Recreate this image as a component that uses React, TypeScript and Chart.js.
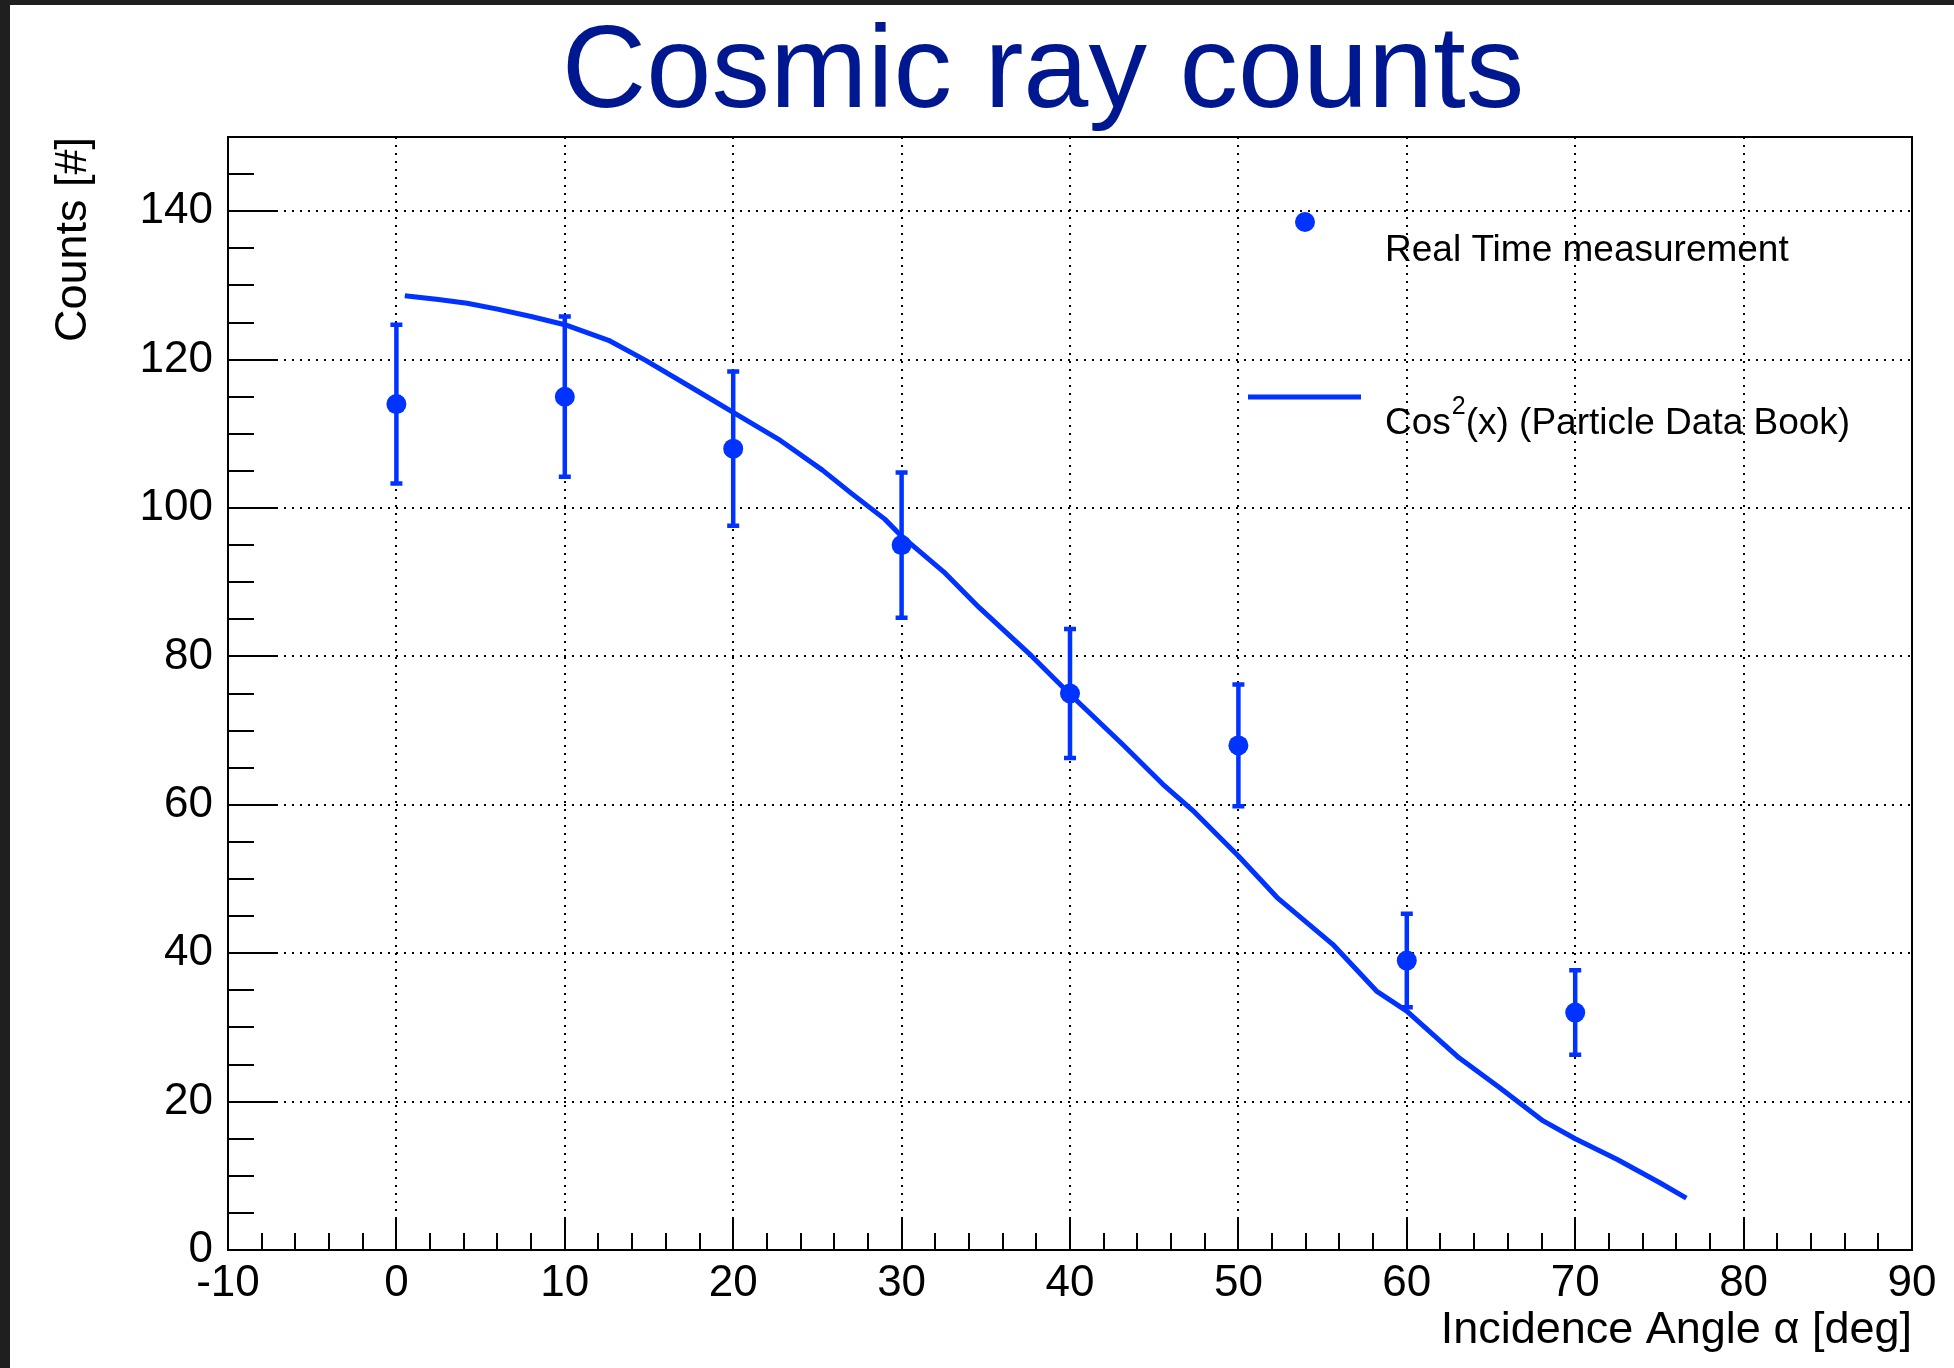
import React, { useEffect, useRef } from 'react';
import { Chart, registerables } from 'chart.js';

Chart.register(...registerables);

// ---- data ----
const angles = [0, 10, 20, 30, 40, 50, 60, 70];
const counts = [114, 115, 108, 95, 75, 68, 39, 32];
const countErrors = [10.7, 10.8, 10.4, 9.8, 8.7, 8.2, 6.3, 5.7];

const curveAngles = [0.5, 2.5, 4.2, 6, 8, 10, 12.6, 14.8, 18, 20, 22.8, 25.3, 27, 29, 30, 32.5, 34.6, 37.7, 40, 43.1, 45.5, 47.4, 50, 52.3, 55.6, 58.2, 60, 63.1, 65.5, 68.1, 70, 72.5, 75, 76.6];
const curveCounts = [128.6, 128.1, 127.6, 126.8, 125.8, 124.7, 122.6, 119.9, 115.6, 112.9, 109.1, 105.1, 102.0, 98.5, 96.2, 91.4, 86.6, 80.1, 74.9, 68.2, 62.8, 59.0, 53.1, 47.5, 41.2, 34.9, 32.2, 25.9, 21.9, 17.4, 15.0, 12.2, 9.1, 7.0];

const xRange = [-10, 90];
const yRange = [0, 150];
const xMajorStep = 10;
const xMinorStep = 2;
const yMajorStep = 20;
const yMinorStep = 5;

const chartTitle = 'Cosmic ray counts';
const xTitle = 'Incidence Angle α [deg]';
const yTitle = 'Counts [#]';
const pointsLabel = 'Real Time measurement';
const curveLabel = 'Cos²(x) (Particle Data Book)';

// ---- style ----
const FONT = '"Liberation Sans", Arial, Helvetica, sans-serif';
const BLUE = '#0033ff';
const TITLE_COLOR = '#00188f';
const W = 1944;
const H = 1363;

const rootStyle = {
  id: 'rootStyle',
  beforeDraw(chart: any) {
    const { ctx, width, height } = chart;
    ctx.save();
    ctx.fillStyle = '#ffffff';
    ctx.fillRect(0, 0, width, height);
    ctx.restore();
  },
  beforeDatasetsDraw(chart: any) {
    const { ctx } = chart;
    const xs = chart.scales.x;
    const ys = chart.scales.y;
    ctx.save();
    ctx.strokeStyle = BLUE;
    ctx.lineWidth = 4.5;
    ctx.lineCap = 'butt';
    angles.forEach((a, i) => {
      const px = xs.getPixelForValue(a);
      const top = ys.getPixelForValue(counts[i] + countErrors[i]);
      const bot = ys.getPixelForValue(counts[i] - countErrors[i]);
      ctx.beginPath();
      ctx.moveTo(px, top);
      ctx.lineTo(px, bot);
      ctx.moveTo(px - 6, top);
      ctx.lineTo(px + 6, top);
      ctx.moveTo(px - 6, bot);
      ctx.lineTo(px + 6, bot);
      ctx.stroke();
    });
    ctx.restore();
  },
  afterDraw(chart: any) {
    const { ctx, chartArea } = chart;
    const { left, right, top, bottom } = chartArea;
    const xs = chart.scales.x;
    const ys = chart.scales.y;
    ctx.save();
    // ticks (inside the frame)
    ctx.strokeStyle = '#000';
    ctx.lineWidth = 2;
    ctx.beginPath();
    const eps = 1e-6;
    for (let v = yRange[0]; v <= yRange[1] + eps; v += yMinorStep) {
      if (v <= yRange[0] + eps || v >= yRange[1] - eps) continue;
      const isMajor = Math.abs(v / yMajorStep - Math.round(v / yMajorStep)) < eps;
      const py = Math.round(ys.getPixelForValue(v));
      ctx.moveTo(left, py);
      ctx.lineTo(left + (isMajor ? 50 : 26), py);
    }
    for (let v = xRange[0]; v <= xRange[1] + eps; v += xMinorStep) {
      if (v <= xRange[0] + eps || v >= xRange[1] - eps) continue;
      const isMajor = Math.abs(v / xMajorStep - Math.round(v / xMajorStep)) < eps;
      const px = Math.round(xs.getPixelForValue(v));
      ctx.moveTo(px, bottom);
      ctx.lineTo(px, bottom - (isMajor ? 33 : 17));
    }
    ctx.stroke();
    // frame
    ctx.lineWidth = 2;
    ctx.strokeRect(left, top, right - left, bottom - top);

    // title
    ctx.fillStyle = TITLE_COLOR;
    ctx.font = `117px ${FONT}`;
    ctx.textAlign = 'center';
    ctx.textBaseline = 'alphabetic';
    ctx.fillText(chartTitle, 1033, 102);

    // legend
    const ds = chart.data.datasets;
    ctx.fillStyle = BLUE;
    ctx.beginPath();
    ctx.arc(1295, 217, 10, 0, Math.PI * 2);
    ctx.fill();
    ctx.strokeStyle = BLUE;
    ctx.lineWidth = 5;
    ctx.beginPath();
    ctx.moveTo(1238, 392);
    ctx.lineTo(1351, 392);
    ctx.stroke();

    ctx.fillStyle = '#000';
    ctx.textAlign = 'left';
    ctx.font = `37px ${FONT}`;
    ctx.fillText(ds[0].label, 1375, 256);

    const lbl: string = ds[1].label;
    const parts = lbl.split('²');
    let x = 1375;
    ctx.fillText(parts[0], x, 429);
    x += ctx.measureText(parts[0]).width;
    if (parts.length > 1) {
      ctx.font = `25px ${FONT}`;
      ctx.fillText('2', x + 1, 409);
      x += ctx.measureText('2').width + 1;
      ctx.font = `37px ${FONT}`;
      ctx.fillText(parts[1], x, 429);
    }
    ctx.restore();
  },
};

export default function App() {
  const ref = useRef<HTMLCanvasElement | null>(null);

  useEffect(() => {
    if (!ref.current) return;
    const chart = new Chart(ref.current, {
      type: 'scatter',
      data: {
        datasets: [
          {
            label: pointsLabel,
            data: angles.map((a, i) => ({ x: a, y: counts[i] })),
            showLine: false,
            pointRadius: 10,
            pointHoverRadius: 10,
            pointBorderWidth: 0,
            pointBackgroundColor: BLUE,
            backgroundColor: BLUE,
            borderColor: BLUE,
          },
          {
            label: curveLabel,
            data: curveAngles.map((a, i) => ({ x: a, y: curveCounts[i] })),
            showLine: true,
            borderColor: BLUE,
            borderWidth: 5,
            borderJoinStyle: 'round',
            pointRadius: 0,
            tension: 0,
            fill: false,
          },
        ],
      },
      options: {
        responsive: false,
        animation: false,
        devicePixelRatio: 1,
        layout: { padding: { left: 0, top: 132, right: 42, bottom: 0 } },
        plugins: {
          legend: { display: false },
          title: { display: false },
          tooltip: { enabled: false },
        },
        events: [],
        scales: {
          x: {
            type: 'linear',
            position: 'bottom',
            min: xRange[0],
            max: xRange[1],
            afterFit: (s: any) => { s.height = 118; },
            ticks: {
              stepSize: xMajorStep,
              autoSkip: false,
              maxRotation: 0,
              padding: 7,
              color: '#000',
              font: { family: FONT, size: 44 },
            },
            grid: {
              drawTicks: false,
              lineWidth: 2,
              color: (c: any) => (c.tick && (c.tick.value <= xRange[0] || c.tick.value >= xRange[1]) ? 'rgba(0,0,0,0)' : '#000'),
            },
            border: { display: false, dash: [2, 6] },
            title: {
              display: true,
              text: xTitle,
              align: 'end',
              color: '#000',
              font: { family: FONT, size: 45 },
              padding: { top: 0, bottom: 10 },
            },
          },
          y: {
            type: 'linear',
            position: 'left',
            min: yRange[0],
            max: yRange[1],
            afterFit: (s: any) => { s.width = 218; },
            ticks: {
              stepSize: yMajorStep,
              includeBounds: false,
              padding: 15,
              color: '#000',
              font: { family: FONT, size: 44 },
            },
            grid: {
              drawTicks: false,
              lineWidth: 2,
              color: (c: any) => (c.tick && (c.tick.value <= yRange[0] || c.tick.value >= yRange[1]) ? 'rgba(0,0,0,0)' : '#000'),
            },
            border: { display: false, dash: [2, 6] },
            title: {
              display: true,
              text: yTitle,
              align: 'end',
              color: '#000',
              font: { family: FONT, size: 45 },
              padding: { top: 37, bottom: 0 },
            },
          },
        },
      },
      plugins: [rootStyle],
    } as any);
    return () => chart.destroy();
  }, []);

  return (
    <div style={{ position: 'fixed', left: 0, top: 0, width: 1954, height: 1368, background: '#1f1f1f', overflow: 'hidden' }}>
      <canvas
        ref={ref}
        width={W}
        height={H}
        style={{ position: 'absolute', left: 10, top: 5, width: W, height: H, display: 'block' }}
      />
    </div>
  );
}
